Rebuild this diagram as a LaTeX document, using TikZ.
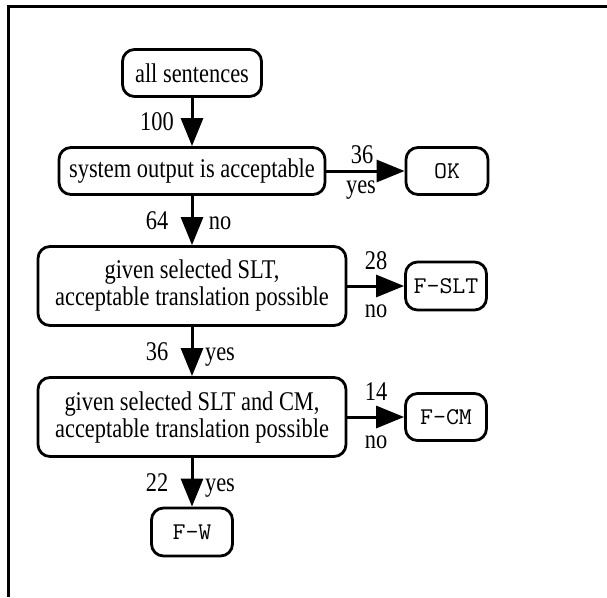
\documentclass[tikz,border=0pt]{standalone}
\usepackage{fontspec}
\setmainfont{Liberation Serif}[FakeStretch=0.83]
\newfontfamily\monof{Latin Modern Mono}[FakeStretch=1.05]
\usetikzlibrary{arrows.meta}
\begin{document}
\begin{tikzpicture}[x=1pt,y=-1pt,
  box/.style={draw, line width=2.8pt, rounded corners=12pt, align=center, inner sep=0pt,
    font=\fontsize{27}{27}\selectfont},
  mono/.style={font=\fontsize{24}{27}\selectfont\monof},
  lbl/.style={anchor=base, inner sep=0pt, font=\fontsize{27}{27}\selectfont},
  arr/.style={line width=3pt, -{Triangle[length=28pt,width=22pt]}},
  frame/.style={line width=3pt}]
\useasboundingbox (0,0) rectangle (607,597);
\draw[frame] (8,597) -- (8,6) -- (607,6);

\node[box, minimum width=139pt, minimum height=47pt] (all) at (192,73) {all sentences};
\node[box, minimum width=266pt, minimum height=47pt] (sys) at (192,171) {system output is acceptable};
\node[box, mono, minimum width=82pt, minimum height=47pt] (ok) at (447,171) {OK};
\node[box, minimum width=308pt, minimum height=79pt] (slt) at (192,286) {given selected SLT,\\acceptable translation possible};
\node[box, mono, minimum width=81pt, minimum height=48pt] (fslt) at (446,286) {F-SLT};
\node[box, minimum width=308pt, minimum height=79pt] (cm) at (192,417) {given selected SLT and CM,\\acceptable translation possible};
\node[box, mono, minimum width=81pt, minimum height=47pt] (fcm) at (446,417) {F-CM};
\node[box, mono, minimum width=81pt, minimum height=48pt] (fw) at (192,532) {F-W};

\draw[arr] (all) -- (sys);
\draw[arr] (sys) -- (ok);
\draw[arr] (sys) -- (slt);
\draw[arr] (slt) -- (fslt);
\draw[arr] (slt) -- (cm);
\draw[arr] (cm) -- (fcm);
\draw[arr] (cm) -- (fw);

\node[lbl] (l100) at (157,130) {100};
\node[lbl] (l36a) at (362,163) {36};
\node[lbl] (lyes1) at (361,193) {yes};
\node[lbl] (l64) at (157,229) {64};
\node[lbl] (lno1) at (220,229) {no};
\node[lbl] (l28) at (376,269) {28};
\node[lbl] (lno2) at (376,317) {no};
\node[lbl] (l36b) at (157,360) {36};
\node[lbl] (lyes2) at (220,360) {yes};
\node[lbl] (l14) at (376,400) {14};
\node[lbl] (lno3) at (376,448) {no};
\node[lbl] (l22) at (157,491) {22};
\node[lbl] (lyes3) at (220,491) {yes};
\end{tikzpicture}
\end{document}
